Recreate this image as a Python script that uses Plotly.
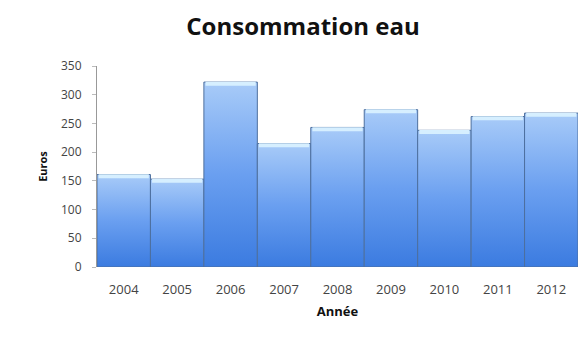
import plotly.graph_objects as go

years = ["2004", "2005", "2006", "2007", "2008", "2009", "2010", "2011", "2012"]
euros = [161, 153, 322, 215, 243, 274, 238, 262, 268]
y_ticks = [0, 50, 100, 150, 200, 250, 300, 350]

fig = go.Figure()

# Each year is a full-width column with a vertical blue gradient
for i, (yr, v) in enumerate(zip(years, euros)):
    x0, x1 = i - 0.5, i + 0.5
    fig.add_trace(go.Scatter(
        x=[x0, x0, x1, x1, x0],
        y=[0, v, v, 0, 0],
        mode="lines",
        fill="toself",
        fillgradient=dict(
            type="vertical",
            colorscale=[[0, "#3b7be0"], [0.5, "#6a9ff0"], [1, "#a8cbf8"]],
        ),
        line=dict(color="#4d6f9e", width=1),
        hoverinfo="skip",
        showlegend=False,
    ))
    # light glossy cap along the top of the column
    fig.add_trace(go.Scatter(
        x=[x0 + 0.03, x1 - 0.03],
        y=[v - 3, v - 3],
        mode="lines",
        line=dict(color="#d6efff", width=4),
        hoverinfo="skip",
        showlegend=False,
    ))

fig.update_layout(
    width=585,
    height=338,
    margin=dict(l=97, r=7, t=66, b=71),
    paper_bgcolor="white",
    plot_bgcolor="white",
    title=dict(
        text="<b>Consommation eau</b>",
        x=0.518, xref="container", xanchor="center",
        y=0.92, yref="container", yanchor="middle",
        font=dict(family="Open Sans", size=24, color="#111"),
    ),
    xaxis=dict(
        range=[-0.5, 8.5],
        tickmode="array",
        tickvals=list(range(len(years))),
        ticktext=years,
        showgrid=False,
        zeroline=False,
        showline=False,
        ticks="",
        ticklabelstandoff=13,
        tickfont=dict(family="Open Sans", size=13, color="#444"),
        title=dict(text="<b>Année</b>", font=dict(family="Open Sans", size=13, color="#111"), standoff=9),
    ),
    yaxis=dict(
        range=[0, 350],
        tickmode="array",
        tickvals=y_ticks,
        showgrid=False,
        zeroline=False,
        showline=True,
        linecolor="#999",
        linewidth=1,
        ticks="outside",
        ticklen=4,
        tickcolor="#bbb",
        ticklabelstandoff=8,
        tickfont=dict(family="Open Sans", size=12, color="#444"),
        title=dict(text="<b>Euros</b>", font=dict(family="Open Sans", size=11, color="#111"), standoff=11),
    ),
)

fig.write_html("out.html")
